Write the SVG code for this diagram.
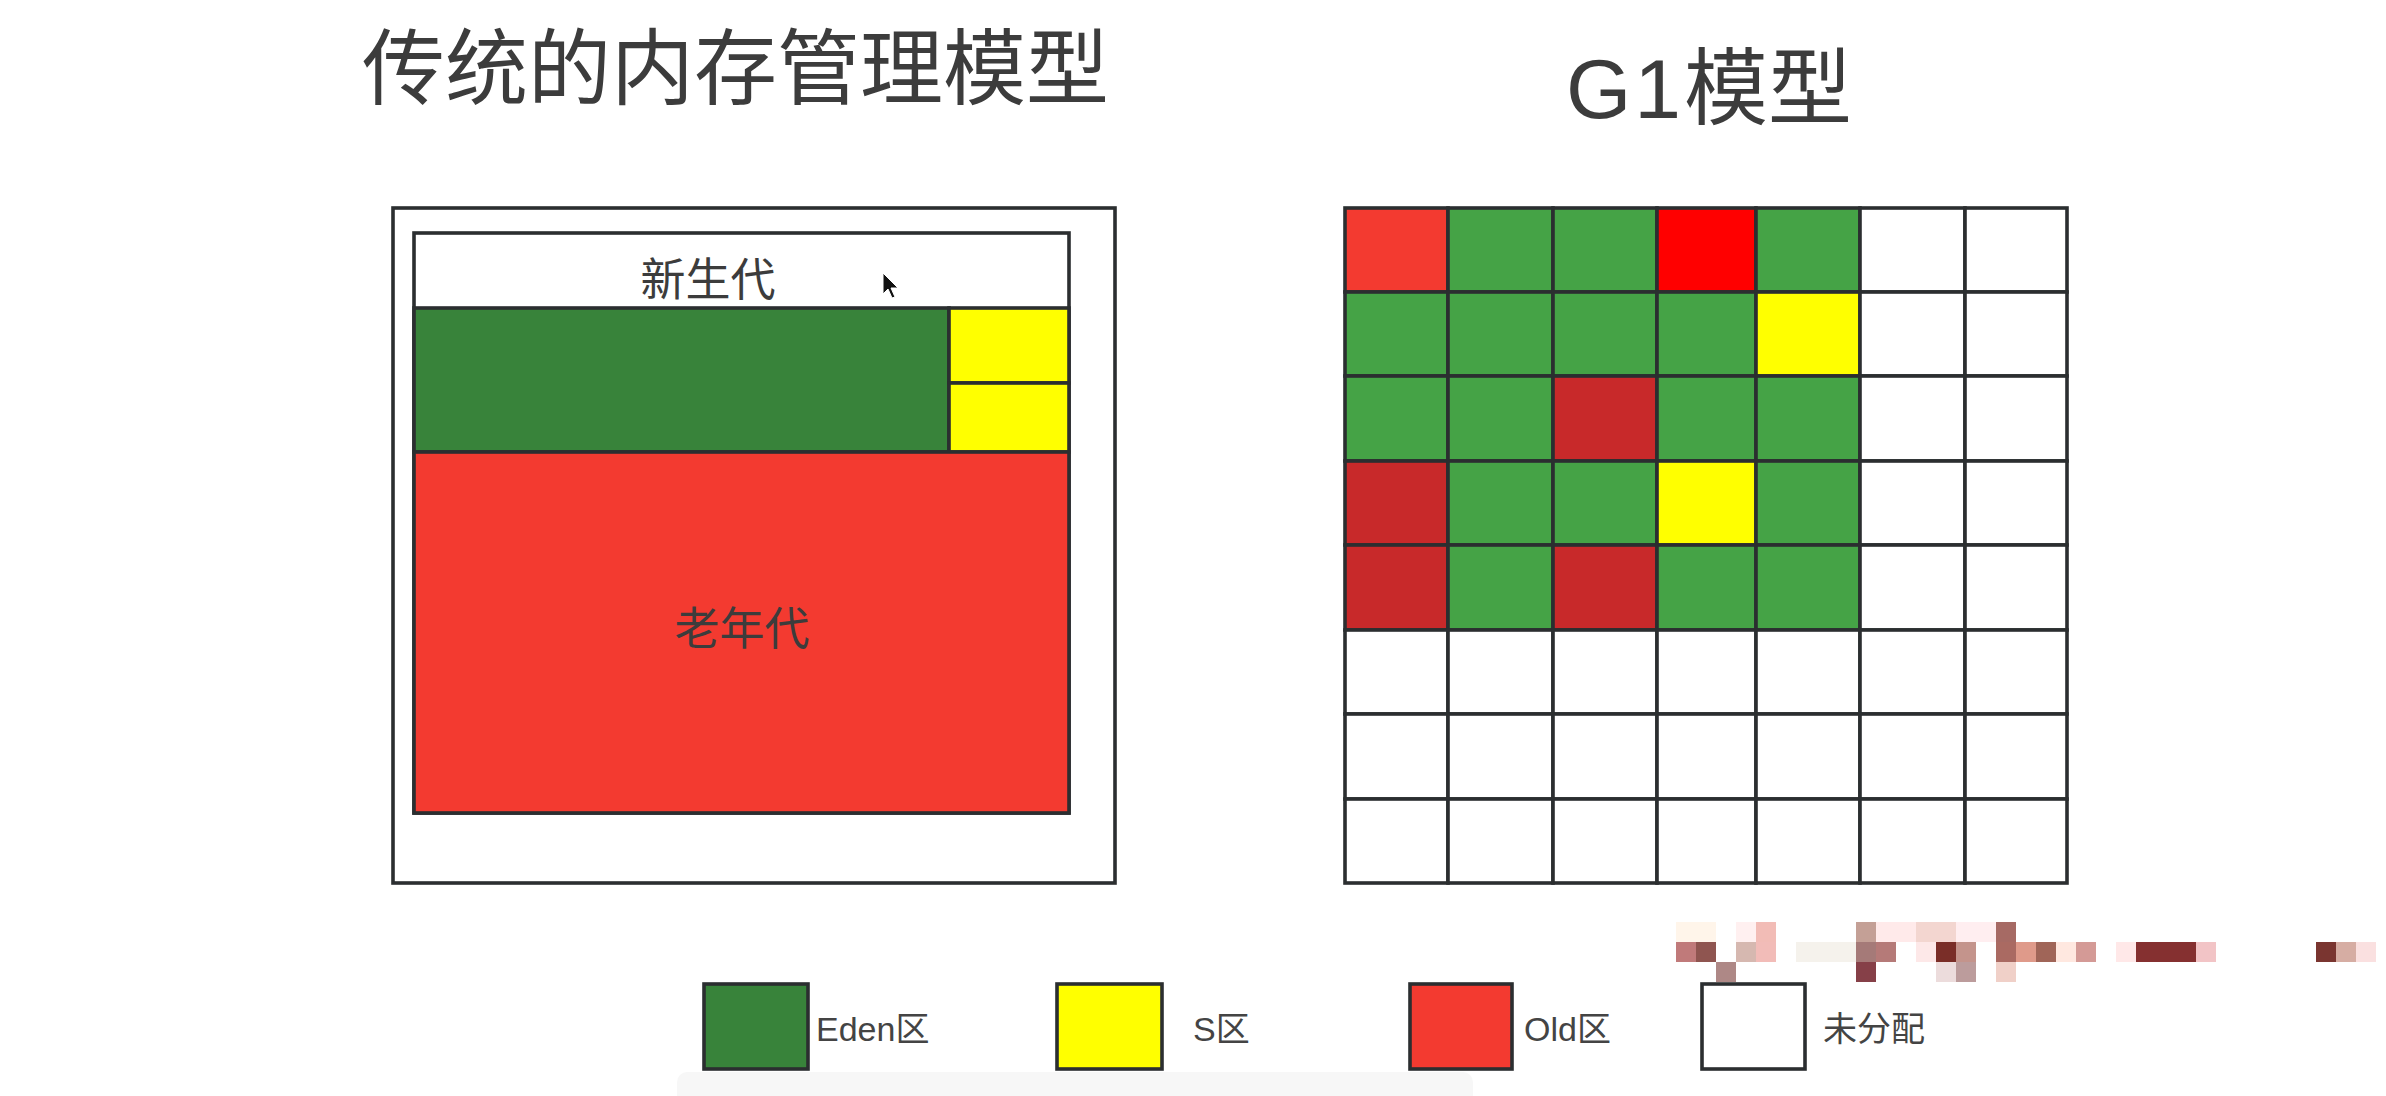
<svg xmlns="http://www.w3.org/2000/svg" width="2386" height="1096" viewBox="0 0 2386 1096">
<style>
.ln{stroke:#2b2e30;stroke-width:3.6}
.eden{fill:#38833a}
.g{fill:#45a346}
.y{fill:#ffff00}
.old{fill:#f33a30}
.br{fill:#ff0000}
.dr{fill:#c8292a}
.w{fill:#ffffff}
.t{font-family:"Noto Sans CJK SC","Liberation Sans",sans-serif;fill:#3c3c3c}
.lt{font-family:"Liberation Sans","Noto Sans CJK SC",sans-serif;fill:#444;font-size:34px}
</style>
<rect x="0" y="0" width="2386" height="1096" fill="#ffffff"/>
<rect x="677" y="1072" width="796" height="40" rx="10" fill="#f7f7f7"/>

<g id="titles">
<text class="t" x="362" y="98" font-size="83">传统的内存管理模型</text>
<text class="t" x="1566" y="118" font-size="84"><tspan font-family="Liberation Sans, sans-serif" letter-spacing="3">G1</tspan>模型</text>
</g>

<g id="traditional">
<rect class="ln" x="393" y="208" width="722" height="675" fill="#ffffff"/>
<rect class="ln" x="414" y="233" width="655" height="580" fill="#ffffff"/>
<g id="young-label"><text class="t" x="708" y="296" font-size="45" text-anchor="middle">新生代</text></g>
<g id="eden"><rect class="ln eden" x="414" y="308" width="535" height="144"/></g>
<g id="s0"><rect class="ln y" x="949" y="308" width="120" height="75"/></g>
<g id="s1"><rect class="ln y" x="949" y="383" width="120" height="69"/></g>
<g id="old"><rect class="ln old" x="414" y="452" width="655" height="361"/>
<text class="t" x="742" y="645" font-size="45" text-anchor="middle">老年代</text></g>
<polygon points="883,273 883,294 888,289 892,298 895,297 891,288 898,288" fill="#111" stroke="#fff" stroke-width="1"/>
</g>

<g id="g1">
<rect class="ln old" x="1345" y="208" width="103" height="84"/>
<rect class="ln g" x="1448" y="208" width="105" height="84"/>
<rect class="ln g" x="1553" y="208" width="104" height="84"/>
<rect class="ln br" x="1657" y="208" width="99" height="84"/>
<rect class="ln g" x="1756" y="208" width="104" height="84"/>
<rect class="ln w" x="1860" y="208" width="105" height="84"/>
<rect class="ln w" x="1965" y="208" width="102" height="84"/>
<rect class="ln g" x="1345" y="292" width="103" height="84"/>
<rect class="ln g" x="1448" y="292" width="105" height="84"/>
<rect class="ln g" x="1553" y="292" width="104" height="84"/>
<rect class="ln g" x="1657" y="292" width="99" height="84"/>
<rect class="ln y" x="1756" y="292" width="104" height="84"/>
<rect class="ln w" x="1860" y="292" width="105" height="84"/>
<rect class="ln w" x="1965" y="292" width="102" height="84"/>
<rect class="ln g" x="1345" y="376" width="103" height="85"/>
<rect class="ln g" x="1448" y="376" width="105" height="85"/>
<rect class="ln dr" x="1553" y="376" width="104" height="85"/>
<rect class="ln g" x="1657" y="376" width="99" height="85"/>
<rect class="ln g" x="1756" y="376" width="104" height="85"/>
<rect class="ln w" x="1860" y="376" width="105" height="85"/>
<rect class="ln w" x="1965" y="376" width="102" height="85"/>
<rect class="ln dr" x="1345" y="461" width="103" height="84"/>
<rect class="ln g" x="1448" y="461" width="105" height="84"/>
<rect class="ln g" x="1553" y="461" width="104" height="84"/>
<rect class="ln y" x="1657" y="461" width="99" height="84"/>
<rect class="ln g" x="1756" y="461" width="104" height="84"/>
<rect class="ln w" x="1860" y="461" width="105" height="84"/>
<rect class="ln w" x="1965" y="461" width="102" height="84"/>
<rect class="ln dr" x="1345" y="545" width="103" height="85"/>
<rect class="ln g" x="1448" y="545" width="105" height="85"/>
<rect class="ln dr" x="1553" y="545" width="104" height="85"/>
<rect class="ln g" x="1657" y="545" width="99" height="85"/>
<rect class="ln g" x="1756" y="545" width="104" height="85"/>
<rect class="ln w" x="1860" y="545" width="105" height="85"/>
<rect class="ln w" x="1965" y="545" width="102" height="85"/>
<g class="ln w" fill="#fff">
<rect x="1345" y="630" width="103" height="84"/><rect x="1448" y="630" width="105" height="84"/><rect x="1553" y="630" width="104" height="84"/><rect x="1657" y="630" width="99" height="84"/><rect x="1756" y="630" width="104" height="84"/><rect x="1860" y="630" width="105" height="84"/><rect x="1965" y="630" width="102" height="84"/>
<rect x="1345" y="714" width="103" height="85"/><rect x="1448" y="714" width="105" height="85"/><rect x="1553" y="714" width="104" height="85"/><rect x="1657" y="714" width="99" height="85"/><rect x="1756" y="714" width="104" height="85"/><rect x="1860" y="714" width="105" height="85"/><rect x="1965" y="714" width="102" height="85"/>
<rect x="1345" y="799" width="103" height="84"/><rect x="1448" y="799" width="105" height="84"/><rect x="1553" y="799" width="104" height="84"/><rect x="1657" y="799" width="99" height="84"/><rect x="1756" y="799" width="104" height="84"/><rect x="1860" y="799" width="105" height="84"/><rect x="1965" y="799" width="102" height="84"/>
</g>
</g>

<g id="mosaic">
<rect x="1676" y="922" width="40" height="20" fill="#fff5ea"/>
<rect x="1736" y="922" width="20" height="20" fill="#fff0f0"/>
<rect x="1756" y="922" width="20" height="20" fill="#f2bcb6"/>
<rect x="1856" y="922" width="20" height="20" fill="#c4a096"/>
<rect x="1876" y="922" width="40" height="20" fill="#ffeaea"/>
<rect x="1916" y="922" width="40" height="20" fill="#f3d6d0"/>
<rect x="1956" y="922" width="40" height="20" fill="#ffeef0"/>
<rect x="1996" y="922" width="20" height="20" fill="#a66a64"/>
<rect x="1676" y="942" width="20" height="20" fill="#c07a7a"/>
<rect x="1696" y="942" width="20" height="20" fill="#8f5550"/>
<rect x="1736" y="942" width="20" height="20" fill="#d6b8b0"/>
<rect x="1756" y="942" width="20" height="20" fill="#f2bcb8"/>
<rect x="1796" y="942" width="60" height="20" fill="#f5f2ec"/>
<rect x="1856" y="942" width="20" height="20" fill="#a57a78"/>
<rect x="1876" y="942" width="20" height="20" fill="#b57a78"/>
<rect x="1916" y="942" width="20" height="20" fill="#fde8e8"/>
<rect x="1936" y="942" width="20" height="20" fill="#7a2e28"/>
<rect x="1956" y="942" width="20" height="20" fill="#c4948c"/>
<rect x="1996" y="942" width="20" height="20" fill="#aa6a62"/>
<rect x="2016" y="942" width="20" height="20" fill="#df9a8a"/>
<rect x="2036" y="942" width="20" height="20" fill="#a06558"/>
<rect x="2056" y="942" width="20" height="20" fill="#ffe8e0"/>
<rect x="2076" y="942" width="20" height="20" fill="#d49a96"/>
<rect x="2116" y="942" width="20" height="20" fill="#ffe8e8"/>
<rect x="2136" y="942" width="60" height="20" fill="#853030"/>
<rect x="2196" y="942" width="20" height="20" fill="#f2c4c6"/>
<rect x="2316" y="942" width="20" height="20" fill="#7a3530"/>
<rect x="2336" y="942" width="20" height="20" fill="#d6ada3"/>
<rect x="2356" y="942" width="20" height="20" fill="#fae0e0"/>
<rect x="1716" y="962" width="20" height="20" fill="#ae8886"/>
<rect x="1856" y="962" width="20" height="20" fill="#864048"/>
<rect x="1936" y="962" width="20" height="20" fill="#ecdcdc"/>
<rect x="1956" y="962" width="20" height="20" fill="#bc9c9c"/>
<rect x="1996" y="962" width="20" height="20" fill="#f0d0c8"/>
</g>

<g id="legend">
<g id="lg-eden"><rect class="ln eden" x="704" y="984" width="104" height="85"/><text class="lt" x="816" y="1041">Eden区</text></g>
<g id="lg-s"><rect class="ln y" x="1057" y="984" width="105" height="85"/><text class="lt" x="1193" y="1041">S区</text></g>
<g id="lg-old"><rect class="ln old" x="1410" y="984" width="102" height="85"/><text class="lt" x="1524" y="1041">Old区</text></g>
<g id="lg-free"><rect class="ln w" x="1702" y="984" width="103" height="85"/><text class="lt" x="1823" y="1041">未分配</text></g>
</g>
</svg>
